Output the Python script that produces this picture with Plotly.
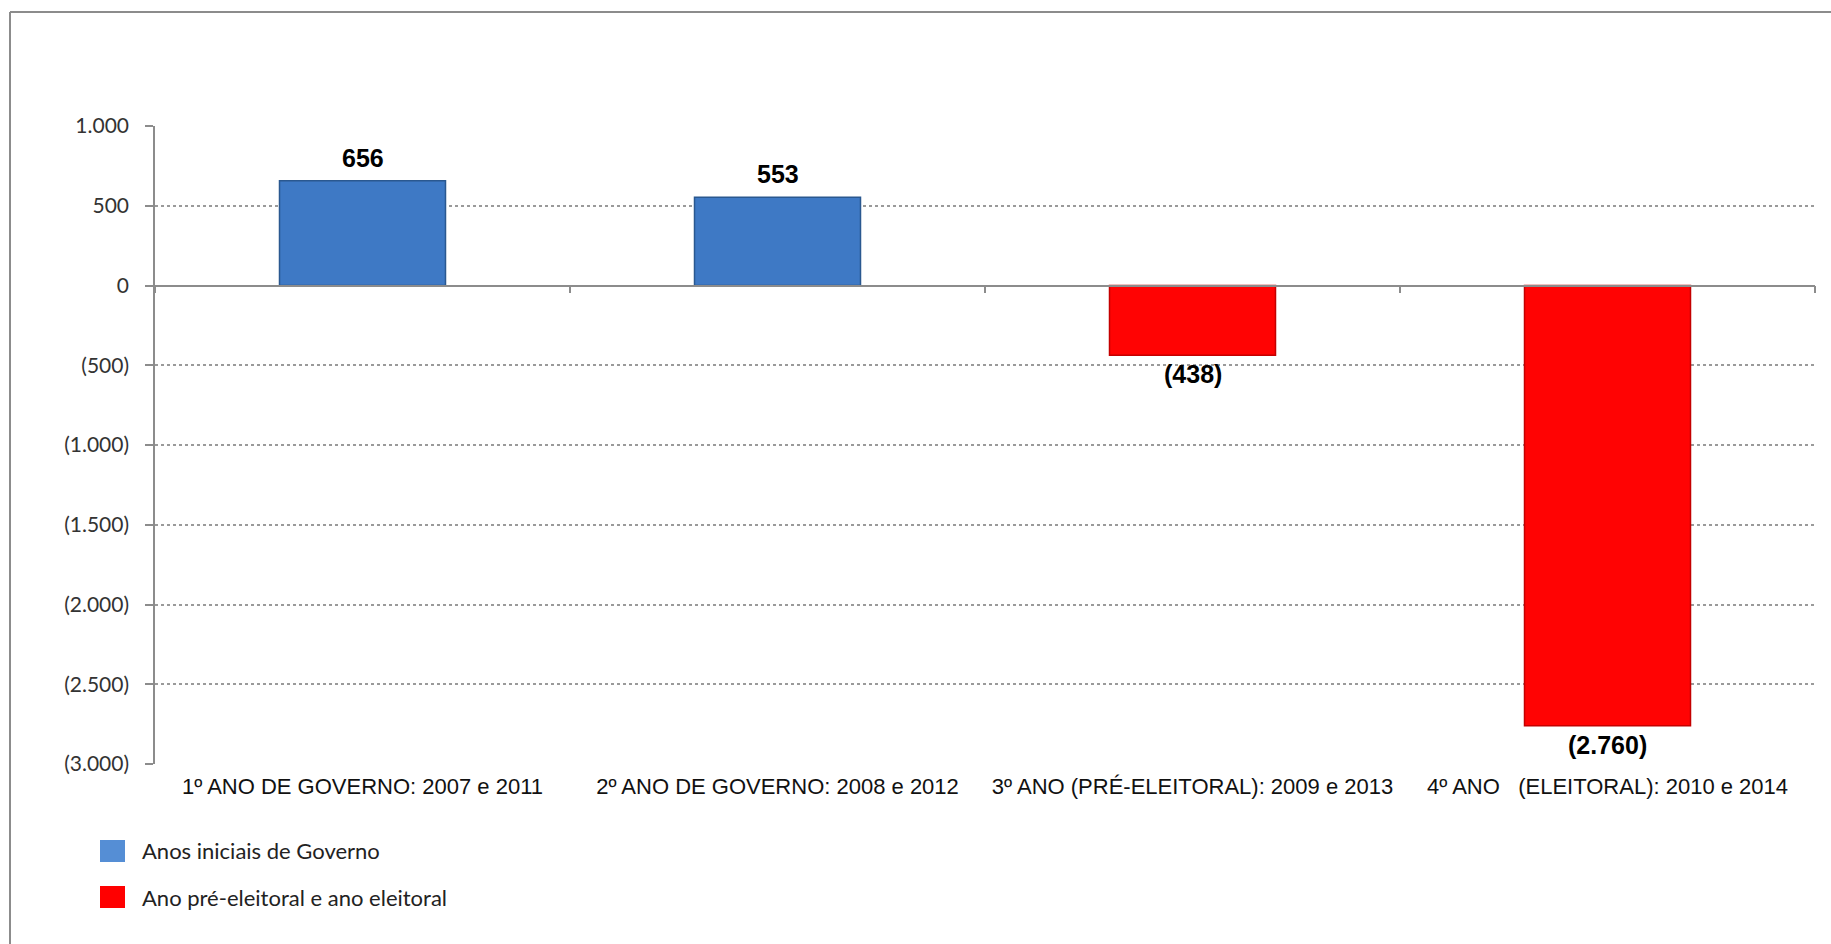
import plotly.graph_objects as go

# Categories, values and axis labels
categories = [
    "1º ANO DE GOVERNO: 2007 e 2011",
    "2º ANO DE GOVERNO: 2008 e 2012",
    "3º ANO (PRÉ-ELEITORAL): 2009 e 2013",
    "4º ANO\u00a0\u00a0\u00a0(ELEITORAL): 2010 e 2014",
]
values = [656, 553, -438, -2760]
groups = ["inicial", "inicial", "eleitoral", "eleitoral"]

y_tickvals = [1000, 500, 0, -500, -1000, -1500, -2000, -2500, -3000]
y_ticktext = ["1.000", "500", "0", "(500)", "(1.000)", "(1.500)", "(2.000)", "(2.500)", "(3.000)"]

legend_labels = ["Anos iniciais de Governo", "Ano pré-eleitoral e ano eleitoral"]

W, H = 1831, 944
ML, MR, MT, MB = 155, 16, 126, 180
PW, PH = W - ML - MR, H - MT - MB

BAR_FILL = {"inicial": "#3e79c5", "eleitoral": "#ff0303"}
BAR_EDGE = {"inicial": "#2a5890", "eleitoral": "#c40000"}
LEGEND_FILL = ["#558ed5", "#ff0000"]


def fmt(v):
    s = f"{abs(v):,}".replace(",", ".")
    return f"({s})" if v < 0 else s


def px_x(px):
    return (px - ML) / PW


def px_y(py):
    return (H - MB - py) / PH


fig = go.Figure()

fig.add_trace(go.Bar(
    x=categories,
    y=values,
    width=0.4,
    marker=dict(
        color=[BAR_FILL[g] for g in groups],
        line=dict(color=[BAR_EDGE[g] for g in groups], width=1.5),
    ),
    showlegend=False,
    hoverinfo="x+y",
))

# invisible companion trace so the axis drawn at zero gets its own subplot
fig.add_trace(go.Scatter(
    x=categories, y=values, xaxis="x2", mode="markers",
    marker=dict(opacity=0), showlegend=False, hoverinfo="skip",
))

# value labels above / below each bar
for c, v in zip(categories, values):
    fig.add_annotation(
        x=c, y=v, text=fmt(v), showarrow=False,
        yanchor="bottom" if v >= 0 else "top",
        yshift=7 if v >= 0 else -3,
        font=dict(family="Liberation Sans, Arial", size=25, color="#000000", weight="bold"),
    )

shapes = []
# outer frame (left and top edges)
shapes.append(dict(type="line", xref="paper", yref="paper",
                   x0=px_x(10), x1=px_x(10), y0=px_y(12), y1=px_y(H + 5),
                   line=dict(color="#8c8c8c", width=2)))
shapes.append(dict(type="line", xref="paper", yref="paper",
                   x0=px_x(10), x1=px_x(W + 5), y0=px_y(12), y1=px_y(12),
                   line=dict(color="#8c8c8c", width=2)))

# custom legend
legend_rows = [851, 897]
for lab, col, cy in zip(legend_labels, LEGEND_FILL, legend_rows):
    shapes.append(dict(type="rect", xref="paper", yref="paper",
                       x0=px_x(100), x1=px_x(125), y0=px_y(cy - 11), y1=px_y(cy + 11),
                       fillcolor=col, line=dict(width=0)))
    fig.add_annotation(
        xref="paper", yref="paper", x=px_x(140), y=px_y(cy),
        xanchor="left", yanchor="middle", text=lab, showarrow=False,
        font=dict(family="Lato, Open Sans, sans-serif", size=22, color="#222222"),
    )

fig.update_layout(
    width=W, height=H,
    margin=dict(l=ML, r=MR, t=MT, b=MB),
    paper_bgcolor="white", plot_bgcolor="white",
    shapes=shapes,
    bargap=0.6,
    xaxis=dict(
        type="category",
        showline=False, showgrid=False, zeroline=False,
        ticks="",
        tickfont=dict(family="Liberation Sans, Arial", size=22, color="#111111"),
        ticklabelstandoff=7,
    ),
    xaxis2=dict(
        type="category", overlaying="x", anchor="free", position=0.75,
        matches="x",
        showline=True, linecolor="#8c8c8c", linewidth=1.5,
        ticks="outside", tickson="boundaries", ticklen=7, tickcolor="#8c8c8c", tickwidth=1.5,
        showticklabels=False, showgrid=False, zeroline=False,
    ),
    yaxis=dict(
        range=[-3000, 1000],
        tickvals=y_tickvals, ticktext=y_ticktext,
        showgrid=True, gridcolor="#9a9a9a", griddash="dot", gridwidth=1.5,
        zeroline=False,
        showline=True, linecolor="#8c8c8c", linewidth=1.5,
        ticks="outside", ticklen=8, tickcolor="#8c8c8c", tickwidth=1.5,
        ticklabelstandoff=12,
        tickfont=dict(family="Lato, Open Sans, sans-serif", size=21, color="#333333"),
    ),
)

fig.write_html("out.html")
